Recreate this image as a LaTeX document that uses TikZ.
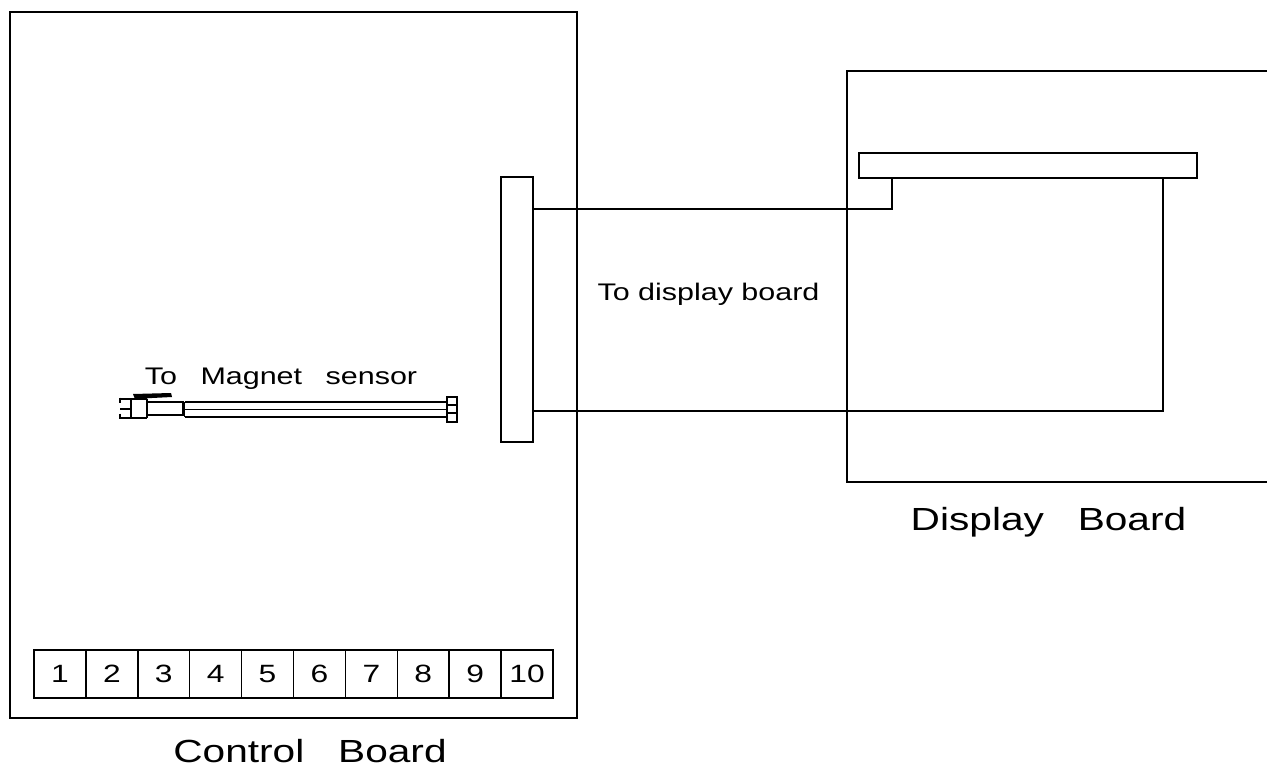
\documentclass[tikz,border=0pt]{standalone}
\usepackage{fontspec}
\setmainfont[FakeStretch=1.27]{Liberation Sans}
\tikzset{
  board/.style={draw, line width=1.5, minimum width=#1, inner sep=0pt, outer sep=0pt},
  termbox/.style={draw, line width=1.5, minimum width=51.9, minimum height=48, inner sep=0pt, outer sep=0pt, text height=16, text depth=0, font=\fontsize{25}{25}\selectfont},
  bigtext/.style={inner sep=0pt, anchor=base, font=\fontsize{32}{32}\selectfont},
  smalltext/.style={inner sep=0pt, anchor=base, font=\fontsize{24}{24}\selectfont},
  wire/.style={line width=1.5},
}
\begin{document}
\begin{tikzpicture}[x=1pt, y=-1pt]
  \useasboundingbox (0,0) rectangle (1267,766);
  % --- boards ---
  \node[board=567, minimum height=706] (control) at (293.5,365) {};
  \begin{scope}
    \clip (0,0) rectangle (1267,766);
    \node[board=440, minimum height=411] (display) at (1067,276.5) {};
  \end{scope}
  \node[bigtext] (controllabel) at (310,762) {Control\ \ \ Board};
  \node[bigtext] (displaylabel) at (1048.5,530) {Display\ \ \ Board};
  % --- connector strip and display header ---
  \node[board=32, minimum height=265] (strip) at (517,309.5) {};
  \node[board=338, minimum height=25] (header) at (1028,165.5) {};
  % Terminal block, 10 positions
  \foreach \n in {1,...,10}
    \node[termbox] (term\n) at ({34+51.9*(\n-0.5)},674) {\n};
  % Display cable
  \coordinate (topend) at (892,178);
  \coordinate (botend) at (1163,178);
  \draw[wire] (strip.east |- 0,209) -| (topend);
  \draw[wire] (strip.east |- 0,411) -| (botend);
  \node[smalltext] (cablelabel) at (708.5,300) {To display board};
  % Magnet sensor plug and lead
  \node[smalltext] (sensorlabel) at (281,384) {To\hspace{23.5pt}Magnet\hspace{23.5pt}sensor};
  \draw[wire] (120,399) -- (147,399) (120,409) -- (131,409) (120,418) -- (147,418);
  \draw[wire] (120,397.5) -- (120,403) (120,413.5) -- (120,419);
  \draw[wire] (131,399) -- (131,418) (147,399) -- (147,418);
  \fill (133,394) -- (171,393) -- (172,397) -- (152,398) -- (135,399) -- cycle;
  \draw[wire] (147,402) -- (183,402) -- (183,416) (147,415) -- (183,415);
  \draw[wire] (184.5,402) -- (447,402) (184.5,409.5) -- (447,409.5) (184.5,417) -- (447,417) (184.5,402) -- (184.5,417);
  \draw[wire] (447,397) rectangle (457,422) (447,405) -- (457,405) (447,413) -- (457,413);
\end{tikzpicture}
\end{document}
